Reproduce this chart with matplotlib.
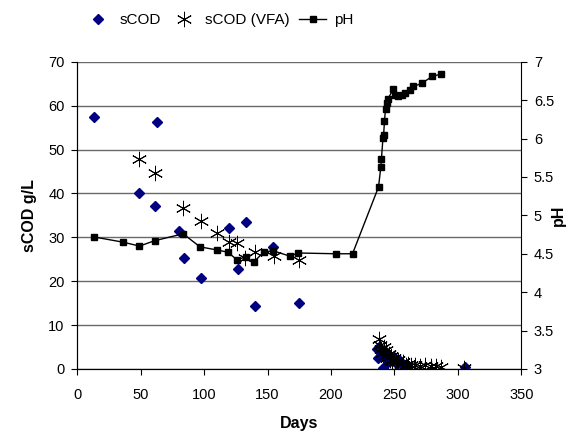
import matplotlib.pyplot as plt
import numpy as np

plt.rcParams['font.family'] = ['Liberation Sans', 'DejaVu Sans']

# sCOD (g/L) against days
scod_days = [13.6, 49, 61.5, 62.8, 80.4, 83.8, 97.5, 119.8, 126.4, 133, 139.8, 154, 174.5,
             236, 237, 238, 239, 240, 241, 242, 243, 244, 245, 246, 247, 248, 250, 252,
             254, 256, 258, 260, 306]
scod = [57.5, 40, 37.2, 56.2, 31.5, 25.2, 20.8, 32.1, 22.8, 33.4, 14.4, 27.9, 15,
        4.5, 2.4, 5.0, 3.8, 3.0, 0.3, 4.2, 3.5, 2.2, 1.5, 3.0, 2.6, 1.8, 2.8, 1.2,
        2.0, 1.0, 0.8, 0.6, 0.4]

# sCOD as VFA
vfa_days = [49, 61.5, 83.3, 97.5, 110, 119.3, 125.9, 132.4, 139.8, 154.8, 174.5,
            237.5, 238.5, 239.5, 240.5, 241.5, 242.5, 243.5, 244.5, 245.5, 246.5, 247.5,
            248.5, 250, 251.5, 253, 255, 257, 259, 261, 263, 266, 270, 274, 279, 283,
            287, 305]
vfa = [47.8, 44.6, 36.6, 33.8, 31.0, 29.0, 28.7, 25.3, 26.6, 25.8, 24.9,
       6.8, 5.5, 4.5, 3.6, 5.0, 3.0, 4.2, 2.5, 3.5, 2.0, 3.0,
       1.8, 2.4, 1.5, 2.0, 1.2, 1.5, 0.9, 1.1, 0.8, 0.9, 0.7, 0.8, 0.6, 0.6,
       0.5, 0.3]

# pH
ph_days = [12.9, 36.5, 49.1, 61, 83.5, 96.8, 110, 118.8, 126, 132.7, 139, 146.9, 154.2,
           167.4, 174.2, 204, 217, 237.5, 239.3, 239.8, 241, 241.5, 242.2, 243, 244,
           245, 249, 250.7, 253, 256, 258.5, 262.5, 265, 271.7, 279.6, 286.7]
ph = [4.72, 4.65, 4.60, 4.67, 4.76, 4.59, 4.55, 4.52, 4.42, 4.46, 4.39, 4.52, 4.54,
      4.47, 4.51, 4.50, 4.50, 5.37, 5.63, 5.74, 6.01, 6.05, 6.23, 6.39, 6.46,
      6.52, 6.64, 6.57, 6.55, 6.57, 6.59, 6.63, 6.68, 6.72, 6.81, 6.84]

fig = plt.figure(figsize=(5.76, 4.45), dpi=100)
ax = fig.add_axes([0.134, 0.171, 0.771, 0.690])
ax2 = ax.twinx()

ax.set_axisbelow(True)
ax.yaxis.grid(True, color='#6a6a6a', linewidth=1)

l1, = ax.plot(scod_days, scod, linestyle='none', marker='D', markersize=5.5,
              color='#000080', label='sCOD')
l2, = ax.plot(vfa_days, vfa, linestyle='none', marker=(6, 2, 0), markersize=11,
              markeredgewidth=0.7, color='black', label='sCOD (VFA)')
l3, = ax2.plot(ph_days, ph, color='black', linewidth=1, marker='s', markersize=4.5,
               label='pH')

ax.set_xlim(0, 350)
ax.set_ylim(0, 70)
ax2.set_ylim(3, 7)
ax.set_xticks(np.arange(0, 351, 50))
ax.set_yticks(np.arange(0, 71, 10))
ax2.set_yticks(np.arange(3, 7.01, 0.5))
ax2.set_yticklabels(['3', '3.5', '4', '4.5', '5', '5.5', '6', '6.5', '7'])

for a in (ax, ax2):
    a.spines['top'].set_visible(False)
    a.tick_params(labelsize=10.5, length=4, width=0.8, colors='black', pad=5)
ax.tick_params(axis='x', pad=10)
ax.spines['right'].set_visible(False)

ax.set_xlabel('Days', fontsize=11.5, fontweight='bold', labelpad=10)
ax.set_ylabel('sCOD g/L', fontsize=11.5, fontweight='bold', labelpad=8)
ax2.set_ylabel('pH', fontsize=11.5, fontweight='bold', labelpad=-2)

fig.legend(handles=[l1, l2, l3], loc='center', bbox_to_anchor=(0.38, 0.955),
           ncol=3, frameon=False, fontsize=11, handlelength=1.8, columnspacing=0.6,
           handletextpad=0.5)

fig.savefig('out.png', dpi=100)
